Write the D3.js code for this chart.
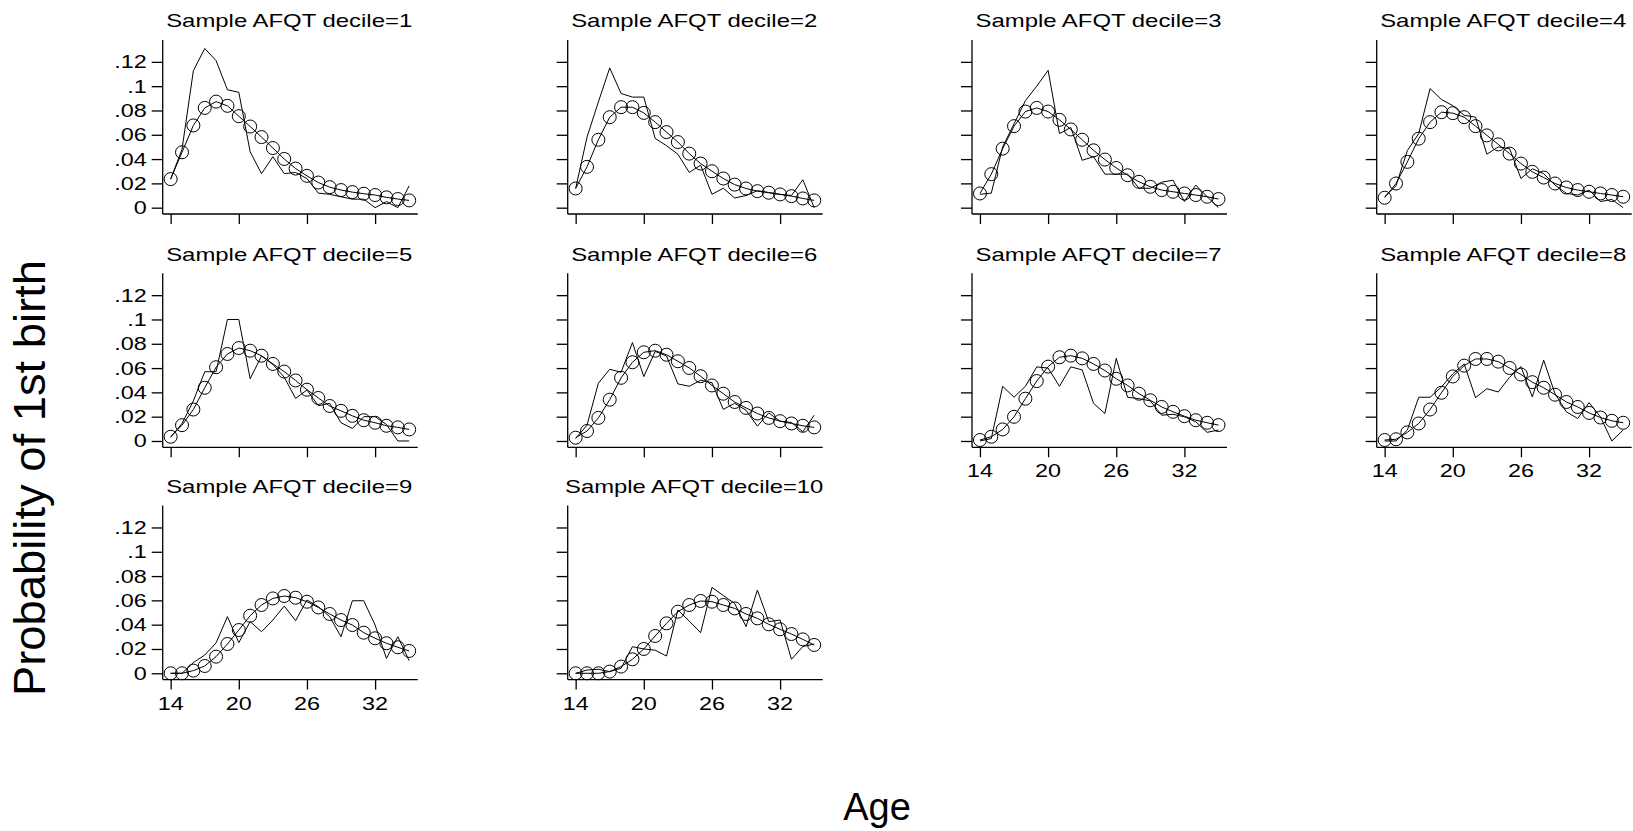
<!DOCTYPE html>
<html lang="en">
<head>
    <meta charset="UTF-8">
    <title>Probability of 1st birth by age, AFQT deciles</title>
    <script src="https://d3js.org/d3.v7.min.js"></script>
    <style>
        body, html { margin: 0; padding: 0; background: #fff; }
        svg { display: block; font-family: "Liberation Sans", Arial, sans-serif; }
        .raw { fill: none; stroke: #000; stroke-width: 1px; }
        .fit { fill: none; stroke: #000; stroke-width: 1px; }
        .marker { fill: none; stroke: #000; stroke-width: 1px; }
        .axis path, .axis line { stroke: #000; stroke-width: 1.3px; }
    </style>
</head>
<body>
<div id="chart"></div>
<script>
    const ages = d3.range(14, 36);
    const yTicks = [0, .02, .04, .06, .08, .1, .12];
    const yTickLabels = ["0", ".02", ".04", ".06", ".08", ".1", ".12"];
    const xTicks = [14, 20, 26, 32];

    // observed hazard (thin line) per decile
    const obs1 = [.0235,.048,.1127,.131,.121,.097,.095,.046,.028,.042,.028,.029,.024,.012,.011,.009,.007,.007,0,.005,0,.018];
    const obs2 = [.0158,.058,.087,.115,.094,.091,.091,.057,.051,.044,.029,.035,.011,.016,.008,.010,.014,.0125,.011,.010,.023,0];
    const obs3 = [.011,.012,.050,.069,.088,.100,.113,.061,.066,.039,.042,.0276,.0276,.0276,.016,.016,.021,.0226,.005,.0186,.009,0];
    const obs4 = [.009,.018,.047,.061,.098,.089,.084,.076,.0745,.044,.050,.0486,.024,.032,.028,.0186,.0117,.0104,.0145,.005,.0068,0];
    const obs5 = [.003,.0144,.033,.057,.057,.100,.100,.0512,.070,.063,.0525,.035,.042,.029,.031,.015,.0103,.020,.020,.0136,0,0];
    const obs6 = [.002,.013,.0476,.059,.0566,.081,.053,.0737,.070,.047,.045,.050,.048,.026,.031,.0253,.0122,.0231,.0163,.0152,.0076,.0212];
    const obs7 = [0,.002,.045,.036,.045,.061,.060,.045,.061,.0585,.031,.0226,.068,.036,.0348,.033,.0212,.022,.0199,.0158,.0071,.009];
    const obs8 = [0,0,.009,.036,.036,.0444,.0553,.0634,.0357,.043,.0403,.0525,.0612,.0362,.0665,.0389,.024,.0185,.0316,.0198,0,.009];
    const obs9 = [0,0,.0088,.015,.025,.0466,.0252,.0425,.0342,.0438,.0553,.0433,.0603,.0548,.0466,.0301,.0597,.0597,.0397,.0123,.0301,.0104];
    const obs10 = [0,.0027,.0033,.0014,.0041,.0219,.020,.019,.0142,.0521,.043,.0334,.0707,.064,.0575,.0384,.0685,.0425,.0438,.0115,.022,.024];

    // fitted hazard (circles) per decile
    const fit1 = [.0235,.0456,.0677,.0821,.0873,.0838,.0753,.0668,.0581,.0491,.0401,.0322,.0262,.0207,.0169,.0145,.0128,.0115,.0104,.0085,.0071,.0060];
    const fit2 = [.0158,.0336,.0559,.0745,.0827,.0827,.078,.0704,.0622,.054,.0445,.0363,.030,.024,.019,.0158,.0136,.0123,.0109,.0095,.0076,.006];
    const fit3 = [.0117,.0276,.0486,.0671,.0791,.0821,.0791,.0723,.0644,.0559,.0472,.0396,.0327,.0267,.0213,.0172,.0145,.0131,.0117,.0104,.009,.0071];
    const fit4 = [.0082,.0199,.0377,.0568,.0704,.0786,.0778,.0745,.0671,.0595,.0521,.0445,.0363,.0295,.0248,.0199,.0166,.0145,.0131,.0117,.0104,.009];
    const fit5 = [.0035,.013,.0259,.0438,.0607,.0716,.0765,.0743,.0702,.0634,.0571,.0498,.0422,.0354,.0288,.0248,.0207,.0171,.015,.0125,.0112,.0095];
    const fit6 = [.0027,.0082,.019,.034,.052,.0648,.073,.0743,.071,.0656,.0601,.0533,.0457,.0389,.0321,.0272,.0226,.019,.0163,.0144,.0125,.0112];
    const fit7 = [.0008,.0035,.0095,.0199,.0348,.0493,.0612,.0689,.0702,.068,.0634,.058,.0512,.0457,.0389,.0335,.028,.024,.0204,.0171,.015,.0131];
    const fit8 = [.0008,.0014,.0071,.0144,.0259,.0397,.0531,.062,.0675,.0675,.0653,.0601,.0547,.0484,.0438,.0381,.0321,.028,.0231,.0193,.0166,.015];
    const fit9 = [0,0,.0022,.006,.0137,.0241,.0356,.0474,.0562,.0616,.0636,.0622,.0589,.0542,.0488,.0438,.0397,.0334,.0288,.0247,.0214,.0184];
    const fit10 = [0,0,0,.0014,.0055,.0115,.02,.0307,.0411,.0507,.0562,.0595,.0589,.0562,.0534,.0488,.0452,.0403,.0362,.0323,.0279,.0233];

    const observed = [obs1, obs2, obs3, obs4, obs5, obs6, obs7, obs8, obs9, obs10];
    const fitted = [fit1, fit2, fit3, fit4, fit5, fit6, fit7, fit8, fit9, fit10];

    const width = 1633, height = 831;
    const colX = [162.7, 567.7, 972, 1376.7];   // left edge (y axis) of each column
    const rowZero = [207.7, 441, 673.3];         // pixel of y = 0 in each row
    const plotW = 255;

    const svg = d3.select("#chart").append("svg")
        .attr("width", width)
        .attr("height", height);

    function drawPanel(i) {
        const col = i % 4, row = Math.floor(i / 4);
        const x0 = colX[col], z = rowZero[row];

        const x = d3.scaleLinear().domain([13.3, 35.75]).range([x0, x0 + plotW]);
        const y = d3.scaleLinear().domain([-0.0052, 0.138]).range([z + 6.3, z - 167.7]);

        const g = svg.append("g");

        // y axis
        g.append("g").attr("class", "axis")
            .attr("transform", `translate(${x0},0)`)
            .call(d3.axisLeft(y).tickValues(yTicks).tickSize(11).tickFormat(""))
            .call(a => a.select(".domain").attr("d", `M0,${y.range()[1]}V${y.range()[0]}`));

        // x axis
        const bottom = y.range()[0];
        g.append("g").attr("class", "axis")
            .attr("transform", `translate(0,${bottom})`)
            .call(d3.axisBottom(x).tickValues(xTicks).tickSize(10).tickFormat(""))
            .call(a => a.select(".domain").attr("d", `M${x0},0H${x0 + plotW}`));

        // y tick labels on first column only
        if (col === 0) {
            g.selectAll(".ylab").data(yTicks).enter().append("text")
                .attr("transform", d => `translate(${x0 - 16},${y(d)}) scale(1.3,1)`)
                .attr("text-anchor", "end")
                .attr("dy", "0.36em")
                .style("font-size", "18px")
                .text((d, k) => yTickLabels[k]);
        }

        // x tick labels on bottom panel of each column
        if (i >= 6) {
            g.selectAll(".xlab").data(xTicks).enter().append("text")
                .attr("transform", d => `translate(${x(d)},${bottom + 30}) scale(1.3,1)`)
                .attr("text-anchor", "middle")
                .style("font-size", "18px")
                .text(d => d);
        }

        // title
        const title = "Sample AFQT decile=" + (i + 1);
        g.append("text")
            .attr("x", x0 + plotW / 2 - 1)
            .attr("y", z - 180.5)
            .attr("text-anchor", "middle")
            .style("font-size", "18.5px")
            .attr("textLength", title.length * 12.3)
            .attr("lengthAdjust", "spacingAndGlyphs")
            .text(title);

        const line = d3.line().x((d, k) => x(ages[k])).y(d => y(d));

        g.append("path").attr("class", "raw").attr("d", line(observed[i]));
        g.append("path").attr("class", "fit").attr("d", line(fitted[i]));

        g.selectAll(".marker").data(fitted[i]).enter().append("circle")
            .attr("class", "marker")
            .attr("cx", (d, k) => x(ages[k]))
            .attr("cy", d => y(d))
            .attr("r", 6.5);
    }

    for (let i = 0; i < 10; i++) drawPanel(i);

    // shared axis titles
    svg.append("text")
        .attr("transform", "translate(45,478) rotate(-90)")
        .attr("text-anchor", "middle")
        .style("font-size", "45px")
        .attr("textLength", 436)
        .attr("lengthAdjust", "spacingAndGlyphs")
        .text("Probability of 1st birth");

    svg.append("text")
        .attr("x", 877)
        .attr("y", 820)
        .attr("text-anchor", "middle")
        .style("font-size", "38px")
        .text("Age");
</script>
</body>
</html>
